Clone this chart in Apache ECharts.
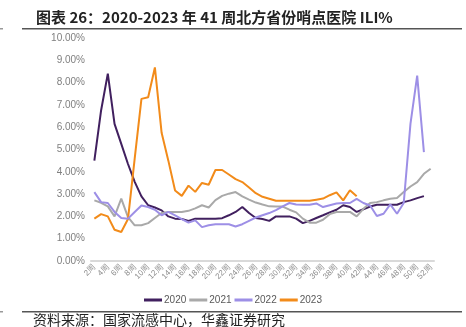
<!DOCTYPE html>
<html>
<head>
<meta charset="utf-8">
<script src="https://cdn.jsdelivr.net/npm/echarts@6/dist/echarts.min.js"></script>
<style>
html,body{margin:0;padding:0;background:#fff;}
#chart{width:466px;height:327px;}
</style>
</head>
<body>
<div id="chart"></div>
<script>
var weeks = [];
for (var w = 2; w <= 52; w++) weeks.push(w + '周');

var s2020 = [4.5,6.75,8.4,6.15,5.25,4.35,3.55,2.9,2.5,2.4,2.27,2.0,1.9,1.88,1.8,1.9,1.9,1.9,1.9,1.92,2.05,2.2,2.42,2.15,1.93,1.88,1.8,2.0,2.0,2.0,1.9,1.7,1.8,1.93,2.05,2.18,2.3,2.5,2.42,2.2,2.32,2.44,2.52,2.52,2.52,2.52,2.64,2.72,2.82,2.91];
var s2021 = [2.72,2.61,2.45,2.0,2.8,1.97,1.6,1.6,1.7,1.93,2.15,2.2,2.2,2.2,2.25,2.36,2.5,2.4,2.73,2.92,3.02,3.09,2.9,2.75,2.62,2.53,2.45,2.44,2.44,2.3,2.18,1.9,1.72,1.72,1.85,2.1,2.2,2.2,2.2,2.0,2.34,2.6,2.64,2.72,2.79,2.82,3.09,3.34,3.54,3.91,4.14];
var s2022 = [3.09,2.64,2.6,2.2,1.93,1.9,2.2,2.49,2.42,2.3,2.05,2.2,2.05,1.88,1.72,1.82,1.52,1.6,1.65,1.65,1.65,1.55,1.65,1.8,1.95,2.05,2.15,2.28,2.45,2.6,2.53,2.52,2.52,2.58,2.42,2.5,2.58,2.6,2.6,2.79,2.6,2.49,2.02,2.12,2.54,2.12,2.6,6.15,8.31,4.88];
var s2023 = [1.9,2.1,2.0,1.4,1.3,1.88,4.6,7.27,7.34,8.68,5.75,4.5,3.16,2.92,3.38,3.1,3.5,3.42,4.08,4.08,3.88,3.67,3.54,3.3,3.04,2.88,2.79,2.7,2.7,2.7,2.7,2.7,2.7,2.75,2.8,2.95,3.08,2.72,3.17,2.9];

var seriesNames = ['2020','2021','2022','2023'];
var seriesColors = ['#41205f','#a9a9a9','#9d8fe6','#f28b1a'];
var seriesData = [s2020, s2021, s2022, s2023];

var chart = echarts.init(document.getElementById('chart'), null, {renderer:'canvas'});
var series = seriesNames.map(function(n, k){
  return {
    name: n, type: 'line', data: seriesData[k], symbol: 'none',
    lineStyle: {width: 2, color: seriesColors[k]},
    itemStyle: {color: seriesColors[k]},
    z: k === 2 ? 3 : 2
  };
});

chart.setOption({
  animation: false,
  title: {
    text: '图表 26：2020-2023 年 41 周北方省份哨点医院 ILI%',
    left: 31, top: 5,
    textStyle: {fontFamily: 'Noto Sans CJK SC', fontWeight: 'bold', fontSize: 15, color: '#222'}
  },
  grid: {left: 91, right: 32, top: 38, bottom: 66},
  legend: {
    data: seriesNames, top: 290, left: 'center', padding: 5,
    itemWidth: 18, itemHeight: 3, itemGap: 3, icon: 'rect',
    textStyle: {fontFamily: 'Liberation Sans', fontSize: 10, color: '#595959', padding: [0,0,0,-3]}
  },
  xAxis: {
    type: 'category', data: weeks, boundaryGap: true,
    axisLine: {lineStyle: {color: '#d9d9d9', width: 2}},
    axisTick: {show: false},
    axisLabel: {interval: 1, rotate: 45, fontSize: 8, color: '#8c8c8c', fontFamily: 'Liberation Sans', margin: 5}
  },
  yAxis: {
    type: 'value', min: 0, max: 10, interval: 1,
    splitLine: {show: false},
    axisLine: {show: false}, axisTick: {show: false},
    axisLabel: {fontSize: 10, color: '#7f7f7f', fontFamily: 'Liberation Sans', margin: 6,
      formatter: function(v){ return v.toFixed(2) + '%'; }}
  },
  graphic: [
    {type: 'rect', shape: {x: 22, y: 28, width: 440, height: 1.5}, style: {fill: '#555'}},
    {type: 'rect', shape: {x: 0, y: 28, width: 3, height: 1.5}, style: {fill: '#999'}},
    {type: 'rect', shape: {x: 22, y: 311, width: 440, height: 1.5}, style: {fill: '#555'}},
    {type: 'rect', shape: {x: 0, y: 311, width: 3, height: 1.5}, style: {fill: '#999'}},
    {type: 'text', left: 33, top: 313,
      style: {text: '资料来源：国家流感中心，华鑫证券研究', font: '14px "Noto Sans CJK SC"', fill: '#222'}}
  ],
  series: series
});
</script>
</body>
</html>
